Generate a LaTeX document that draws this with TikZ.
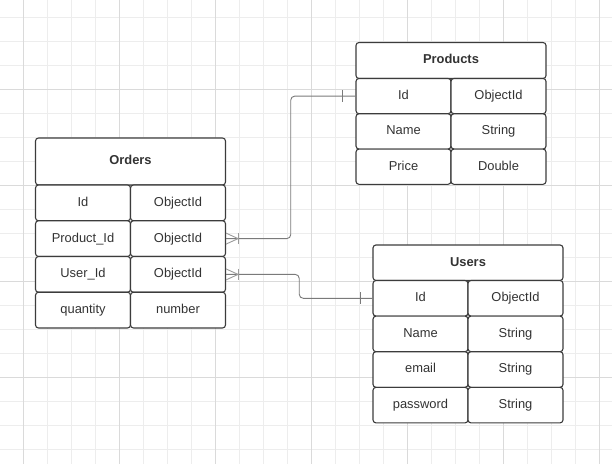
\documentclass[tikz,border=0pt]{standalone}
\usepackage{fontspec}
\setmainfont{Liberation Sans}
\usetikzlibrary{calc}
\definecolor{gridminor}{HTML}{EDEDED}
\definecolor{gridmajor}{HTML}{DADADA}
\definecolor{cellline}{HTML}{3C3C3C}
\definecolor{celltext}{HTML}{333333}
\definecolor{connline}{HTML}{7A7A7A}
\definecolor{footline}{HTML}{9A9A9A}
\tikzset{
  cell/.style={draw=cellline, line width=1.1pt, rounded corners=3pt, fill=white,
    minimum width=95pt, inner sep=0pt, text=celltext,
    text height=9.4pt, text depth=2.6pt,
    font=\fontsize{12.9}{15}\selectfont},
  headcell/.style={cell, minimum width=190pt, font=\fontsize{12.9}{15}\selectfont\bfseries},
  conn/.style={draw=connline, line width=0.9pt, rounded corners=4pt},
  foot/.style={draw=footline, line width=0.9pt},
}
\begin{document}
\begin{tikzpicture}[x=1pt,y=-1pt]
\useasboundingbox (0,0) rectangle (612,464);
\fill[white] (0,0) rectangle (612,464);
% grid
\foreach \i in {0,...,25} {
  \draw[gridminor, line width=0.8pt] ({-0.5+24*\i},0) -- ({-0.5+24*\i},464);
}
\foreach \i in {0,...,19} {
  \draw[gridminor, line width=0.8pt] (0,{17.3+24*\i}) -- (612,{17.3+24*\i});
}
\foreach \i in {0,...,6} {
  \draw[gridmajor, line width=0.9pt] ({23.5+96*\i},0) -- ({23.5+96*\i},464);
}
\foreach \i in {0,...,4} {
  \draw[gridmajor, line width=0.9pt] (0,{-6.7+96*\i}) -- (612,{-6.7+96*\i});
}
% Orders
\node[headcell, minimum height=47pt] (oh) at (130.5,161.5) {Orders};
\node[cell, minimum height=35.75pt] (oik) at (83,202.9) {Id};
\node[cell, minimum height=35.75pt] (oit) at (178,202.9) {ObjectId};
\node[cell, minimum height=35.75pt] (opk) at (83,238.6) {Product\_Id};
\node[cell, minimum height=35.75pt] (opt) at (178,238.6) {ObjectId};
\node[cell, minimum height=35.75pt] (ouk) at (83,274.4) {User\_Id};
\node[cell, minimum height=35.75pt] (out) at (178,274.4) {ObjectId};
\node[cell, minimum height=35.75pt] (oqk) at (83,310.1) {quantity};
\node[cell, minimum height=35.75pt] (oqt) at (178,310.1) {number};
% Products
\node[headcell, minimum height=36pt] (ph) at (451,60.5) {Products};
\node[cell, minimum height=35.3pt] (pik) at (403.5,96.1) {Id};
\node[cell, minimum height=35.3pt] (pit) at (498.5,96.1) {ObjectId};
\node[cell, minimum height=35.3pt] (pnk) at (403.5,131.4) {Name};
\node[cell, minimum height=35.3pt] (pnt) at (498.5,131.4) {String};
\node[cell, minimum height=35.3pt] (prk) at (403.5,166.7) {Price};
\node[cell, minimum height=35.3pt] (prt) at (498.5,166.7) {Double};
% Users
\node[headcell, minimum height=35.5pt] (uh) at (468,262.7) {Users};
\node[cell, minimum height=35.6pt] (uik) at (420.5,298.3) {Id};
\node[cell, minimum height=35.6pt] (uit) at (515.5,298.3) {ObjectId};
\node[cell, minimum height=35.6pt] (unk) at (420.5,333.9) {Name};
\node[cell, minimum height=35.6pt] (unt) at (515.5,333.9) {String};
\node[cell, minimum height=35.6pt] (uek) at (420.5,369.5) {email};
\node[cell, minimum height=35.6pt] (uet) at (515.5,369.5) {String};
\node[cell, minimum height=35.6pt] (upk) at (420.5,405.1) {password};
\node[cell, minimum height=35.6pt] (upt) at (515.5,405.1) {String};
% connectors
\coordinate (m1) at ($(opt.east)!0.5!(pik.west)$);
\coordinate (m2) at ($(out.east)!0.5!(uik.west)$);
\draw[conn] (opt.east) -| (m1) |- (pik.west);
\draw[conn] (out.east) -| (m2) |- (uik.west);
% crow's feet (many) at Orders
\draw[foot] ([yshift=5.5pt]opt.east) -- ([xshift=12pt]opt.east) -- ([yshift=-5.5pt]opt.east);
\draw[foot] ([xshift=12pt,yshift=5.5pt]opt.east) -- ([xshift=12pt,yshift=-5.5pt]opt.east);
\draw[foot] ([yshift=5.5pt]out.east) -- ([xshift=12pt]out.east) -- ([yshift=-5.5pt]out.east);
\draw[foot] ([xshift=12pt,yshift=5.5pt]out.east) -- ([xshift=12pt,yshift=-5.5pt]out.east);
% one bars
\draw[conn, rounded corners=0pt] ([xshift=-13pt,yshift=6pt]pik.west) -- ([xshift=-13pt,yshift=-6pt]pik.west);
\draw[conn, rounded corners=0pt] ([xshift=-12pt,yshift=6pt]uik.west) -- ([xshift=-12pt,yshift=-6pt]uik.west);
\end{tikzpicture}
\end{document}
